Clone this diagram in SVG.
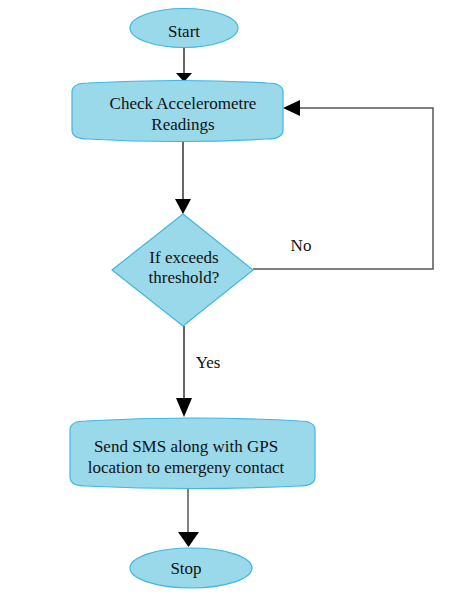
<svg xmlns="http://www.w3.org/2000/svg" width="471" height="607" viewBox="0 0 471 607">
<style>
.n{fill:#99d9ea;stroke:#3fb6e4;stroke-width:1.2}
.t{font-family:"Liberation Serif","Times New Roman",serif;font-size:17px;fill:#111;text-anchor:middle}
.c{fill:none;stroke:#000;stroke-width:1.2}
.g{fill:none;stroke:#555;stroke-width:1.5}
.h{fill:#000}
</style>
<rect width="471" height="607" fill="#fff"/>
<g id="connectors">
<line class="c" x1="184" y1="47" x2="184" y2="74"/>
<polygon class="h" points="176,73 192,73 184,82"/>
<line class="c" x1="183" y1="140" x2="183" y2="200"/>
<polygon class="h" points="175,199 191,199 183,214"/>
<polyline class="g" points="253,269 433,269 433,108 298,108"/>
<polygon class="h" points="300,100 300,116 283,108"/>
<text class="t" x="301" y="251">No</text>
<line class="c" x1="184" y1="326" x2="184" y2="399"/>
<polygon class="h" points="176,398 192,398 184,417"/>
<text class="t" x="208" y="368">Yes</text>
<line class="g" x1="188" y1="487" x2="188" y2="533"/>
<polygon class="h" points="178,532 199,532 188.5,547"/>
</g>
<g id="start">
<ellipse class="n" cx="184" cy="28" rx="54" ry="19.5"/>
<text class="t" x="184" y="37">Start</text>
</g>
<g id="check">
<path class="n" d="M72,92 Q72,83 88,83 Q177,78 267,83 Q283,83 283,92 V130 Q283,139 267,139 Q177,144 88,139 Q72,139 72,130 Z"/>
<text class="t" x="183" y="109">Check Accelerometre</text>
<text class="t" x="183" y="130">Readings</text>
</g>
<g id="decision">
<polygon class="n" points="183,214 253,270 183,326 112,270"/>
<text class="t" x="184" y="263">If exceeds</text>
<text class="t" x="184" y="283">threshold?</text>
</g>
<g id="send">
<path class="n" d="M70,430 Q70,421 86,421 Q192,415 299,421 Q315,421 315,430 V477 Q315,486 299,486 Q192,491 86,486 Q70,486 70,477 Z"/>
<text class="t" x="186" y="452">Send SMS along with GPS</text>
<text class="t" x="186" y="473">location to emergeny contact</text>
</g>
<g id="stop">
<ellipse class="n" cx="191" cy="568" rx="61" ry="20"/>
<text class="t" x="186" y="574">Stop</text>
</g>
</svg>
